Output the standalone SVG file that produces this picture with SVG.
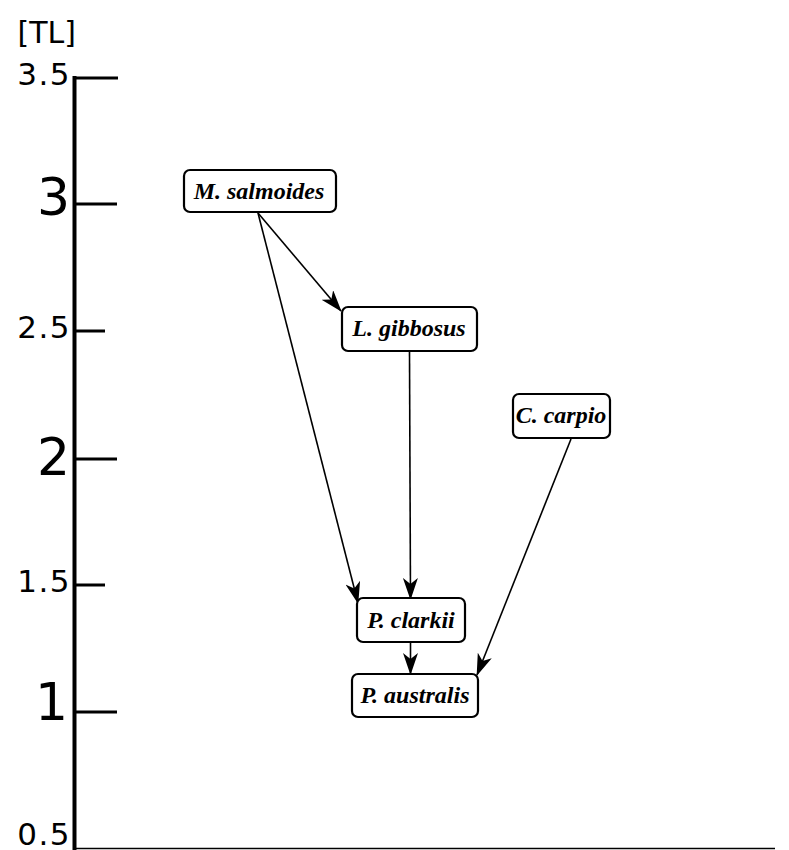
<svg xmlns="http://www.w3.org/2000/svg" width="789" height="850" viewBox="0 0 789 850">
<style>
.ax{font-family:"DejaVu Sans",Verdana,sans-serif;fill:#000;text-anchor:end}
.sm{font-size:31px;letter-spacing:1.5px}
.lg{font-size:52px}
.nb{fill:#fff;stroke:#000;stroke-width:2.2}
.nt{font-family:"Liberation Serif","Times New Roman",serif;font-weight:bold;font-style:italic;font-size:24px;text-anchor:middle;fill:#000}
.ed{stroke:#000;stroke-width:1.6;fill:none;marker-end:url(#ah)}
</style>
<defs>
<marker id="ah" viewBox="0 0 22 15" refX="21" refY="7.5" markerWidth="22" markerHeight="15" markerUnits="userSpaceOnUse" orient="auto">
<path d="M0,0 L22,7.5 L0,15 L6,7.5 Z" fill="#000"/>
</marker>
</defs>
<rect width="789" height="850" fill="#fff"/>
<g id="axis">
<line x1="74.5" y1="76" x2="74.5" y2="850" stroke="#000" stroke-width="4"/>
<line x1="73" y1="848.5" x2="775" y2="848.5" stroke="#000" stroke-width="1.5"/>
<line x1="74" y1="78" x2="118" y2="78" stroke="#000" stroke-width="3"/>
<line x1="74" y1="204" x2="117" y2="204" stroke="#000" stroke-width="3"/>
<line x1="74" y1="331" x2="105" y2="331" stroke="#000" stroke-width="3"/>
<line x1="74" y1="459" x2="117" y2="459" stroke="#000" stroke-width="3"/>
<line x1="74" y1="585" x2="105" y2="585" stroke="#000" stroke-width="3"/>
<line x1="74" y1="712" x2="117" y2="712" stroke="#000" stroke-width="3"/>
<text class="ax" font-size="30" x="76" y="43">[TL]</text>
<text class="ax sm" x="71" y="85">3.5</text>
<text class="ax lg" x="70" y="215">3</text>
<text class="ax sm" x="71" y="338">2.5</text>
<text class="ax lg" x="70" y="475">2</text>
<text class="ax sm" x="71" y="592">1.5</text>
<text class="ax lg" x="68" y="720">1</text>
<text class="ax sm" x="71" y="845">0.5</text>
</g>
<g id="edges">
<line class="ed" x1="258" y1="213" x2="341" y2="311"/>
<line class="ed" x1="258" y1="213" x2="358" y2="603"/>
<line class="ed" x1="409.5" y1="352" x2="410.5" y2="599"/>
<line class="ed" x1="410.5" y1="643" x2="410.5" y2="674"/>
<line class="ed" x1="571" y1="439" x2="477" y2="675"/>
</g>
<g id="n-msalmoides"><rect class="nb" x="184" y="170" width="152" height="42" rx="6"/><text class="nt" x="259" y="199">M. salmoides</text></g>
<g id="n-lgibbosus"><rect class="nb" x="342" y="307" width="135" height="44" rx="6"/><text class="nt" x="409" y="336">L. gibbosus</text></g>
<g id="n-ccarpio"><rect class="nb" x="513" y="394" width="97" height="44" rx="6"/><text class="nt" x="561" y="423">C. carpio</text></g>
<g id="n-pclarkii"><rect class="nb" x="357" y="598" width="108" height="44" rx="6"/><text class="nt" x="411" y="628">P. clarkii</text></g>
<g id="n-paustralis"><rect class="nb" x="352" y="674" width="126" height="43" rx="6"/><text class="nt" x="415" y="703">P. australis</text></g>
</svg>
